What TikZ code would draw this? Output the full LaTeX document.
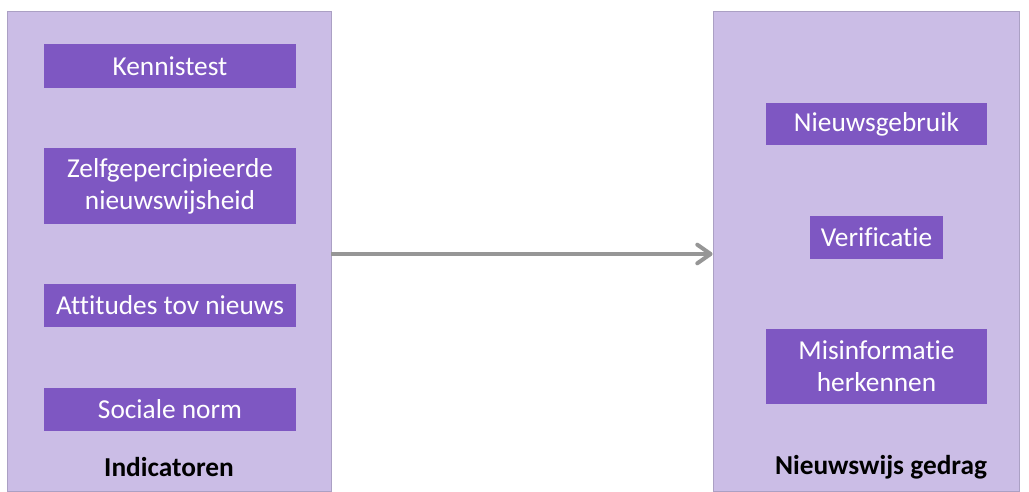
\documentclass[tikz,border=0pt]{standalone}
\usepackage{fontspec}
\setmainfont{Carlito}[Ligatures={NoCommon}]
\usetikzlibrary{arrows.meta}
\definecolor{panelfill}{HTML}{CBBDE6}
\definecolor{panelline}{HTML}{ABA0C4}
\definecolor{boxfill}{HTML}{7E57C2}
\definecolor{arrowgray}{HTML}{969696}

\begin{document}
\begin{tikzpicture}[x=0.75pt,y=-0.75pt,
    panel/.style={fill=panelfill,draw=panelline,line width=0.6pt,inner sep=0pt,minimum height=360pt},
    item/.style={fill=boxfill,text=white,inner sep=0pt,align=center,
      font=\fontsize{20.5}{24}\selectfont},
    title/.style={font=\fontsize{20.5}{24}\selectfont\bfseries}]
      \useasboundingbox (0,0) rectangle (1029,492);
      % the two panels
      \node[panel,minimum width=243pt] (ind) at (169,251) {};
      \node[panel,minimum width=229.5pt] (gedrag) at (866,251) {};
      % indicators
      \node[item,minimum width=189pt,minimum height=33pt] (kennis) at (170,66) {Kennistest};
      \node[item,minimum width=189pt,minimum height=57pt] (zelf) at (170,186) {Zelfgepercipieerde\\nieuwswijsheid};
      \node[item,minimum width=189pt,minimum height=32.5pt] (attitude) at (170,305.5) {Attitudes tov nieuws};
      \node[item,minimum width=189pt,minimum height=32.5pt] (norm) at (170,409.5) {Sociale norm};
      \node[title] (indlabel) at (169,467) {Indicatoren};
      % behaviour
      \node[item,minimum width=165.75pt,minimum height=31.5pt] (gebruik) at (876.5,124) {Nieuwsgebruik};
      \node[item,minimum width=99.75pt,minimum height=32.5pt] (verif) at (876.5,237.5) {Verificatie};
      \node[item,minimum width=165.75pt,minimum height=56.25pt] (misinfo) at (876.5,366.5) {Misinformatie\\herkennen};
      \node[title] (gedraglabel) at (881,467) {Nieuwswijs gedrag};
      \draw[arrowgray,line width=3pt,-{Straight Barb[length=10pt,width=14pt,round]}]
        ([yshift=-2.25pt]ind.east) -- ([yshift=-2.25pt]gedrag.west);
    \end{tikzpicture}
\end{document}
